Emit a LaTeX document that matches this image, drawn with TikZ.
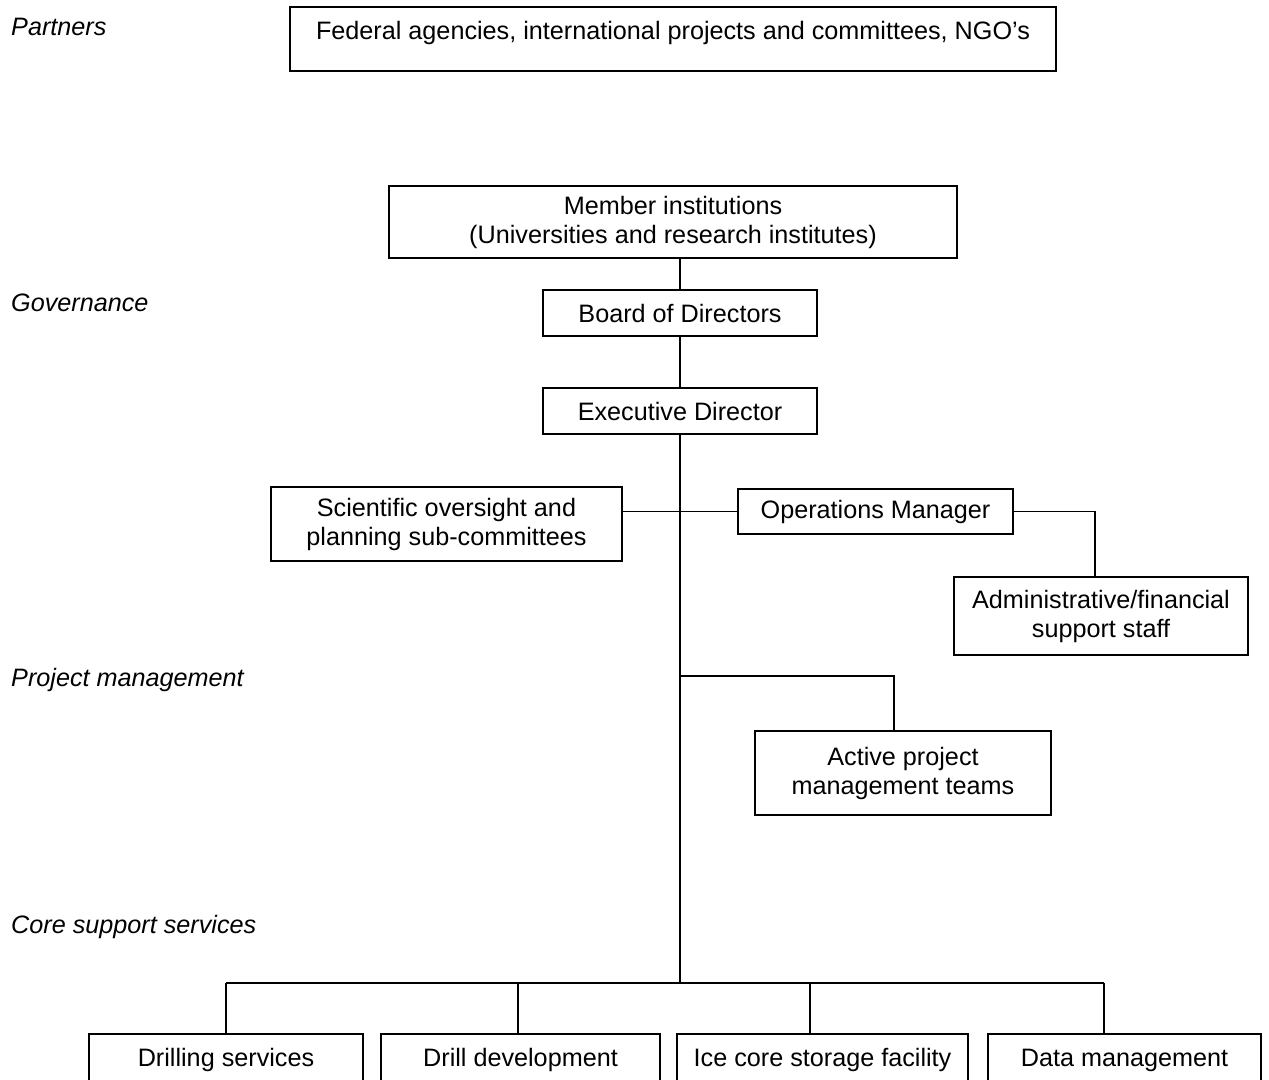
\documentclass[tikz,border=0pt]{standalone}
\usepackage{fontspec}
\setmainfont{Liberation Sans}
\newcommand{\orgfont}{\fontsize{18.9}{21.75}\selectfont}

\begin{document}
\begin{tikzpicture}[x=0.75pt,y=-0.75pt,line width=1.2pt,
  every node/.style={font=\orgfont},
  bx/.style 2 args={draw,align=center,inner sep=0pt,minimum width=#1*0.75pt,minimum height=#2*0.75pt},
  lvl/.style={anchor=west,font=\orgfont\itshape}]
\useasboundingbox (0,0) rectangle (1269,1080);
\clip (0,0) rectangle (1269,1080);
% level labels on the left
\node[lvl] (partnerslbl) at (6,27) {Partners};
\node[lvl] (govlbl) at (6,303) {Governance};
\node[lvl] (pmlbl) at (6,680) {Project management};
\node[lvl] (corelbl) at (6,927) {Core support services};
% boxes
\node[bx={766}{64}] (partners) at (673,39) {};
\node (partnerstxt) at (673,33) {Federal agencies, international projects and committees, NGO’s};
\node[bx={568}{72}] (member) at (673,222) {Member institutions\\(Universities and research institutes)};
\node[bx={274}{46}] (board) at (680,313) {Board of Directors};
\node[bx={274}{46}] (exec) at (680,411) {Executive Director};
\node[bx={351}{74}] (sci) at (446.5,524) {Scientific oversight and\\planning sub-committees};
\node[bx={275}{45}] (ops) at (875.5,511.5) {Operations Manager};
\node[bx={294}{78}] (admin) at (1101,616) {Administrative/financial\\support staff};
\node[bx={296}{84}] (active) at (903,773) {Active project\\management teams};
\node[bx={274}{52}] (drill) at (226,1060) {Drilling services};
\node[bx={279}{52}] (dev) at (520.5,1060) {Drill development};
\node[bx={291}{52}] (ice) at (822.5,1060) {Ice core storage facility};
\node[bx={273}{52}] (data) at (1124.5,1060) {Data management};
% connectors
\coordinate (trunk) at (680,983);
\coordinate (pmj) at (680,676);
\coordinate (pmr) at (894,676);
\coordinate (opsr) at (1095,512);
\coordinate (bl) at (226,983);
\coordinate (b2) at (518,983);
\coordinate (b3) at (810,983);
\coordinate (br) at (1104,983);
\draw (board.north) -- (board.north |- member.south);
\draw (board) -- (exec);
\draw (exec.south) -- (trunk);
\draw (sci.east |- ops.west) -- (ops.west);
\draw (ops.east) -- (ops.east -| opsr) -- (opsr |- admin.north);
\draw (pmj) -- (pmr) -- (pmr |- active.north);
\draw (bl) -- (br);
\foreach \b/\n in {bl/drill,b2/dev,b3/ice,br/data}
  \draw (\b) -- (\b |- \n.north);
\end{tikzpicture}
\end{document}
